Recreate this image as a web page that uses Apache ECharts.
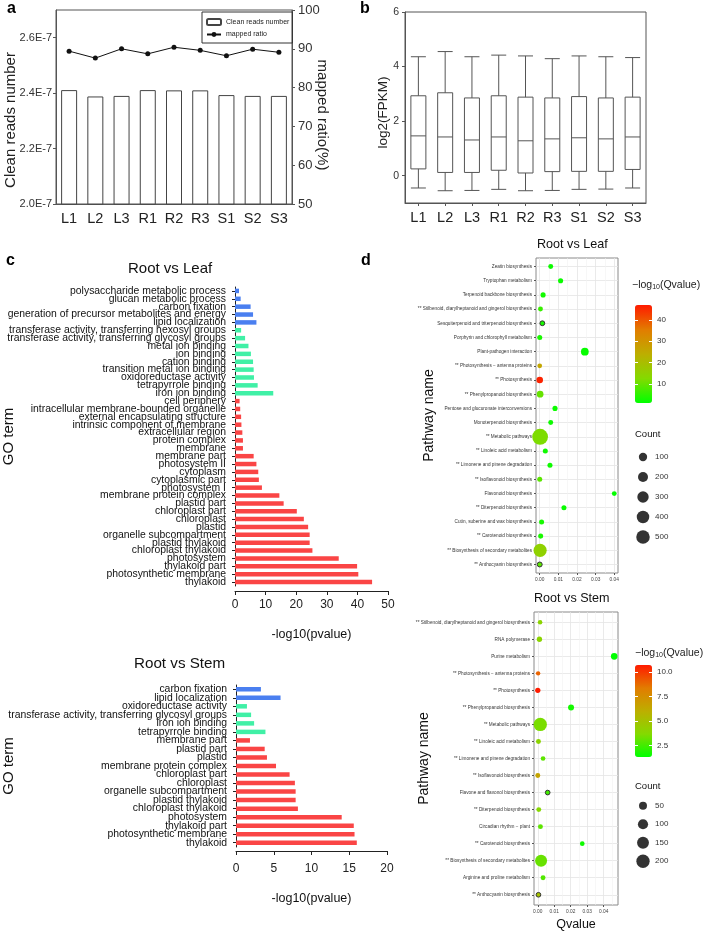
<!DOCTYPE html>
<html>
<head>
<meta charset="utf-8">
<title>Transcriptome overview</title>
<script src="https://cdn.jsdelivr.net/npm/echarts@6/dist/echarts.min.js"></script>
<style>
  html, body { margin: 0; padding: 0; background: #fff; }
  #chart { width: 709px; height: 931px; }
</style>
</head>
<body>
<div id="chart"></div>
<script>
// ---- a: clean reads (x 1E-7) and mapped ratio per sample
const samples = ['L1', 'L2', 'L3', 'R1', 'R2', 'R3', 'S1', 'S2', 'S3']
const cleanReads = [2.411, 2.388, 2.39, 2.411, 2.41, 2.41, 2.393, 2.39, 2.39]
const mappedRatio = [89.4, 87.6, 90.0, 88.7, 90.4, 89.6, 88.2, 89.9, 89.1]

// ---- b: log2(FPKM) boxes [min, Q1, median, Q3, max]
const fpkmBoxes = [
  [-0.45, 0.25, 1.46, 2.93, 4.36],
  [-0.55, 0.12, 1.42, 3.04, 4.55],
  [-0.54, 0.12, 1.31, 2.85, 4.36],
  [-0.50, 0.20, 1.42, 2.93, 4.42],
  [-0.55, 0.10, 1.28, 2.88, 4.39],
  [-0.54, 0.15, 1.35, 2.85, 4.29],
  [-0.50, 0.16, 1.39, 2.90, 4.39],
  [-0.49, 0.16, 1.35, 2.85, 4.36],
  [-0.45, 0.23, 1.42, 2.88, 4.33]
]

// ---- c: GO enrichment, top to bottom
const leafTerms = [
  'polysaccharide metabolic process', 'glucan metabolic process', 'carbon fixation',
  'generation of precursor metabolites and energy', 'lipid localization',
  'transferase activity, transferring hexosyl groups', 'transferase activity, transferring glycosyl groups',
  'metal ion binding', 'ion binding', 'cation binding', 'transition metal ion binding',
  'oxidoreductase activity', 'tetrapyrrole binding', 'iron ion binding',
  'cell periphery', 'intracellular membrane-bounded organelle', 'external encapsulating structure',
  'intrinsic component of membrane', 'extracellular region', 'protein complex', 'membrane',
  'membrane part', 'photosystem II', 'cytoplasm', 'cytoplasmic part', 'photosystem I',
  'membrane protein complex', 'plastid part', 'chloroplast part', 'chloroplast', 'plastid',
  'organelle subcompartment', 'plastid thylakoid', 'chloroplast thylakoid', 'photosystem',
  'thylakoid part', 'photosynthetic membrane', 'thylakoid'
]
const leafGroups = [
  'BP', 'BP', 'BP', 'BP', 'BP',
  'MF', 'MF', 'MF', 'MF', 'MF', 'MF', 'MF', 'MF', 'MF',
  'CC', 'CC', 'CC', 'CC', 'CC', 'CC', 'CC', 'CC', 'CC', 'CC', 'CC', 'CC',
  'CC', 'CC', 'CC', 'CC', 'CC', 'CC', 'CC', 'CC', 'CC', 'CC', 'CC', 'CC'
]
const leafPvalues = [
  1.3, 1.85, 5.1, 5.9, 7.0,
  2.0, 3.3, 4.4, 5.2, 5.9, 6.1, 6.2, 7.4, 12.5,
  1.5, 1.7, 2.0, 2.1, 2.4, 2.6, 2.6, 6.1, 7.0, 7.6, 7.8, 8.8,
  14.5, 15.9, 20.2, 22.5, 23.9, 24.4, 24.4, 25.3, 33.9, 39.9, 40.3, 44.8
]

const stemTerms = [
  'carbon fixation', 'lipid localization', 'oxidoreductase activity',
  'transferase activity, transferring glycosyl groups', 'iron ion binding', 'tetrapyrrole binding',
  'membrane part', 'plastid part', 'plastid', 'membrane protein complex', 'chloroplast part',
  'chloroplast', 'organelle subcompartment', 'plastid thylakoid', 'chloroplast thylakoid',
  'photosystem', 'thylakoid part', 'photosynthetic membrane', 'thylakoid'
]
const stemGroups = [
  'BP', 'BP', 'MF', 'MF', 'MF', 'MF',
  'CC', 'CC', 'CC', 'CC', 'CC', 'CC', 'CC', 'CC', 'CC', 'CC', 'CC', 'CC', 'CC'
]
const stemPvalues = [3.3, 5.9, 1.45, 2.0, 2.4, 3.9, 1.85, 3.8, 4.1, 5.3, 7.1, 7.8, 7.9, 7.9, 8.2, 14.0, 15.6, 15.7, 16.0]

// ---- d: KEGG enrichment, top to bottom
const leafPathways = [
  'Zeatin biosynthesis', 'Tryptophan metabolism', 'Terpenoid backbone biosynthesis',
  '** Stilbenoid, diarylheptanoid and gingerol biosynthesis', 'Sesquiterpenoid and triterpenoid biosynthesis',
  'Porphyrin and chlorophyll metabolism', 'Plant-pathogen interaction', '** Photosynthesis \u2212 antenna proteins',
  '** Photosynthesis', '** Phenylpropanoid biosynthesis', 'Pentose and glucuronate interconversions',
  'Monoterpenoid biosynthesis', '** Metabolic pathways', '** Linoleic acid metabolism',
  '** Limonene and pinene degradation', '** Isoflavonoid biosynthesis', 'Flavonoid biosynthesis',
  '** Diterpenoid biosynthesis', 'Cutin, suberine and wax biosynthesis', '** Carotenoid biosynthesis',
  '** Biosynthesis of secondary metabolites', '** Anthocyanin biosynthesis'
]
const leafQvalues = [0.0059, 0.0112, 0.0018, 0.0004, 0.0014, 0.0000, 0.0242, 0.0000, 0.0000, 0.0002, 0.0082,
  0.0059, 0.0002, 0.0030, 0.0055, 0.0000, 0.0400, 0.0130, 0.0010, 0.0005, 0.0002, 0.0000]
const leafLogQ = [2.2, 2.0, 2.7, 6, 3.0, 3.3, 1.6, 26, 46, 10, 2.1, 2.2, 12, 2.5, 2.3, 9, 1.4, 1.9, 3, 3.3, 15, 9]
const leafCounts = [4, 6, 6, 4, 3, 5, 75, 2, 35, 40, 6, 4, 780, 5, 5, 5, 3, 5, 5, 5, 470, 4]
const leafCountBreaks = [100, 200, 300, 400, 500]
const leafColorTicks = [10, 20, 30, 40]

const stemPathways = [
  '** Stilbenoid, diarylheptanoid and gingerol biosynthesis', 'RNA polymerase', 'Purine metabolism',
  '** Photosynthesis \u2212 antenna proteins', '** Photosynthesis', '** Phenylpropanoid biosynthesis',
  '** Metabolic pathways', '** Linoleic acid metabolism', '** Limonene and pinene degradation',
  '** Isoflavonoid biosynthesis', 'Flavone and flavonol biosynthesis', '** Diterpenoid biosynthesis',
  'Circadian rhythm \u2212 plant', '** Carotenoid biosynthesis', '** Biosynthesis of secondary metabolites',
  'Arginine and proline metabolism', '** Anthocyanin biosynthesis'
]
const stemQvalues = [0.0014, 0.0010, 0.0464, 0.0002, 0.0000, 0.0202, 0.0015, 0.0004, 0.0032, 0.0000, 0.0060,
  0.0006, 0.0016, 0.0270, 0.0020, 0.0032, 0.0004]
const stemLogQ = [4, 4, 1.35, 9, 10.7, 1.7, 3.5, 4, 3, 6.5, 2.5, 3.8, 3, 1.6, 3.2, 2.8, 5]
const stemCounts = [6, 12, 28, 5, 12, 19, 200, 9, 7, 9, 7, 9, 9, 7, 154, 9, 7]
const stemCountBreaks = [50, 100, 150, 200]
const stemColorTicks = [2.5, 5.0, 7.5, 10.0]

const qTicks = [0, 0.01, 0.02, 0.03, 0.04]
const qMinorTicks = [0.005, 0.015, 0.025, 0.035, 0.045]

// -------------------------------------------------------------------
const FONT = '"Liberation Sans", Arial, sans-serif'
const groupColors = { BP: '#4a7ff0', MF: '#40f0a6', CC: '#fa4545' }
const qColors = ['#00ff00', '#84da00', '#bdae00', '#e27c00', '#ff1a00']
const ringed = new Set(['Sesquiterpenoid and triterpenoid biosynthesis', 'Flavone and flavonol biosynthesis', '** Anthocyanin biosynthesis'])

const leafDotSize = (c) => 4.1 + 0.42 * Math.sqrt(c)
const stemDotSize = (c) => 2.7 + 0.75 * Math.sqrt(c)

const range = (n) => Array.from({ length: n }, (_, i) => i)

const letter = (text, left, top) => ({
  text, left, top, padding: 0,
  textStyle: { fontSize: 16, fontWeight: 'bold', color: '#000', fontFamily: FONT }
})
const heading = (text, left, top, size) => ({
  text, left, top, padding: 0,
  textStyle: { fontSize: size, fontWeight: 'normal', color: '#111', fontFamily: FONT }
})
const qLegendTitle = (left, top) => ({
  text: '\u2212log{s|10}(Qvalue)', left, top, padding: 0,
  textStyle: {
    fontSize: 10.5, fontWeight: 'normal', color: '#222', fontFamily: FONT,
    rich: { s: { fontSize: 7, verticalAlign: 'bottom', padding: [5, 0, 0, 0], fontFamily: FONT, color: '#222' } }
  }
})
// fixed-position grid (no automatic squeezing to keep labels on the canvas)
const box = (left, top, width, height, extra) => Object.assign({ left, top, width, height, outerBoundsMode: 'none' }, extra || {})

const goBars = (values, groups) => values.map((v, i) => ({ value: v, itemStyle: { color: groupColors[groups[i]] } }))

const goCategoryAxis = (gridIndex, terms, nameGap) => ({
  type: 'category', gridIndex, data: terms, inverse: true,
  axisLine: { show: true, lineStyle: { color: '#222' } },
  axisTick: { show: true, alignWithLabel: true, length: 3, lineStyle: { color: '#222' } },
  axisLabel: { interval: 0, fontSize: 10.4, color: '#111', margin: 9, fontFamily: FONT },
  splitLine: { show: false },
  name: 'GO term', nameLocation: 'middle', nameGap, nameMoveOverlap: false,
  nameTextStyle: { fontSize: 15, color: '#111', fontFamily: FONT }
})

const goValueAxis = (gridIndex, max, interval, offset, margin, nameGap) => ({
  type: 'value', gridIndex, min: 0, max, interval, offset,
  axisLine: { show: true, onZero: false, lineStyle: { color: '#222' } },
  axisTick: { show: true, length: 4, lineStyle: { color: '#222' } },
  axisLabel: { fontSize: 12, color: '#222', margin, fontFamily: FONT },
  splitLine: { show: false },
  name: '-log10(pvalue)', nameLocation: 'middle', nameGap, nameMoveOverlap: false,
  nameTextStyle: { fontSize: 12.5, color: '#111', fontFamily: FONT }
})

const qAxis = (gridIndex, min, max) => ({
  type: 'value', gridIndex, min, max, position: 'bottom',
  axisLine: { show: false, onZero: false },
  axisTick: { show: true, customValues: qTicks, length: 2, lineStyle: { color: '#555' } },
  axisLabel: { customValues: qTicks, formatter: (v) => v.toFixed(2), fontSize: 4.8, color: '#444', margin: 4, fontFamily: FONT },
  splitLine: { show: true, lineStyle: { color: '#e4e4e4', width: 0.8 } }
})
const qMinorAxis = (gridIndex, min, max) => ({
  type: 'value', gridIndex, min, max, position: 'bottom',
  axisLine: { show: false, onZero: false },
  axisTick: { show: false, customValues: qMinorTicks },
  axisLabel: { show: false, customValues: qMinorTicks },
  splitLine: { show: true, lineStyle: { color: '#f1f1f1', width: 0.6 } }
})
const pathwayAxis = (gridIndex, names, nameGap) => ({
  type: 'value', gridIndex, min: -0.6, max: names.length - 0.4, inverse: true,
  axisLine: { show: false, onZero: false },
  axisTick: { show: true, customValues: range(names.length), length: 2, lineStyle: { color: '#555' } },
  axisLabel: {
    customValues: range(names.length), formatter: (v) => names[Math.round(v)],
    fontSize: 4.7, color: '#333', margin: 4, fontFamily: FONT
  },
  splitLine: { show: true, lineStyle: { color: '#e4e4e4', width: 0.8 } },
  name: 'Pathway name', nameLocation: 'middle', nameGap, nameMoveOverlap: false,
  nameTextStyle: { fontSize: 14, color: '#111', fontFamily: FONT }
})
const colorBarAxis = (gridIndex, min, max, ticks, position, showLabel) => ({
  type: 'value', gridIndex, min, max, position, z: 10,
  axisLine: { show: false, onZero: false },
  axisTick: { show: true, inside: true, length: 3, customValues: ticks, lineStyle: { color: '#fff' } },
  axisLabel: {
    show: showLabel, customValues: ticks, fontSize: 8, color: '#333', margin: 5, fontFamily: FONT,
    formatter: (v) => (ticks.some((t) => t % 1 !== 0) ? v.toFixed(1) : String(v))
  },
  splitLine: { show: false }
})
const hiddenAxis = (gridIndex, min, max) => ({
  type: 'value', gridIndex, min, max, show: false
})
const countAxis = (gridIndex, breaks) => ({
  type: 'value', gridIndex, min: -0.5, max: breaks.length - 0.5, inverse: true, position: 'right',
  axisLine: { show: false, onZero: false },
  axisTick: { show: false },
  axisLabel: { customValues: range(breaks.length), formatter: (v) => String(breaks[Math.round(v)]), fontSize: 8, color: '#333', margin: 2, fontFamily: FONT },
  splitLine: { show: false }
})

const pathwayPoints = (names, q, logq, counts) => names.map((n, i) => {
  const item = { value: [q[i], i, logq[i], counts[i]] }
  if (ringed.has(n)) item.itemStyle = { borderColor: '#333', borderWidth: 1 }
  return item
})

const option = {
  animation: false,
  backgroundColor: '#fff',
  textStyle: { fontFamily: FONT },
  title: [
    letter('a', 7, 1),
    letter('b', 360, 1),
    letter('c', 6, 253),
    letter('d', 361, 253),
    heading('Root vs Leaf', 128, 261, 15),
    heading('Root vs Stem', 134, 656, 15.2),
    heading('Root vs Leaf', 537, 238, 12.6),
    heading('Root vs Stem', 534, 592, 12.6),
    qLegendTitle(632, 279),
    qLegendTitle(635, 647),
    heading('Count', 635, 429, 9.5),
    heading('Count', 635, 781, 9.5)
  ],
  legend: {
    left: 202, top: 12, orient: 'vertical', padding: [6, 3, 5, 4], itemGap: 5,
    itemWidth: 14, itemHeight: 6, borderColor: '#333', borderWidth: 1, selectedMode: false,
    textStyle: { fontSize: 7, color: '#222', fontFamily: FONT },
    data: ['Clean reads number', 'mapped ratio']
  },
  grid: [
    box(56, 10, 236, 194, { show: true, borderColor: '#555', borderWidth: 1 }),
    box(405, 12, 241, 191, { show: true, borderColor: '#555', borderWidth: 1 }),
    box(235, 287, 153, 299),
    box(236, 685, 151, 162),
    box(536, 258, 82, 315, { show: true, borderColor: '#8a8a8a', borderWidth: 1 }),
    box(534, 612, 84, 293, { show: true, borderColor: '#8a8a8a', borderWidth: 1 }),
    box(635, 305, 17, 98),
    box(635, 665, 17, 92),
    box(633, 447, 20, 100),
    box(633, 796.5, 20, 74)
  ],
  xAxis: [
    {
      type: 'category', gridIndex: 0, data: samples,
      axisLine: { onZero: false, lineStyle: { color: '#555' } }, axisTick: { show: false },
      axisLabel: { fontSize: 14.5, color: '#222', margin: 7, fontFamily: FONT }
    },
    {
      type: 'category', gridIndex: 1, data: samples,
      axisLine: { onZero: false, lineStyle: { color: '#555' } },
      axisTick: { show: true, alignWithLabel: true, length: 3, lineStyle: { color: '#555' } },
      axisLabel: { fontSize: 14.5, color: '#222', margin: 7, fontFamily: FONT }
    },
    goValueAxis(2, 50, 10, 5, 8, 37),
    goValueAxis(3, 20, 5, 4, 12, 41),
    qAxis(4, -0.002, 0.042),
    qMinorAxis(4, -0.002, 0.042),
    Object.assign(qAxis(5, -0.0023, 0.0487), {
      name: 'Qvalue', nameLocation: 'middle', nameGap: 13, nameMoveOverlap: false,
      nameTextStyle: { fontSize: 12.5, color: '#111', fontFamily: FONT }
    }),
    qMinorAxis(5, -0.0023, 0.0487),
    hiddenAxis(6, 0, 1),
    hiddenAxis(7, 0, 1),
    hiddenAxis(8, 0, 1),
    hiddenAxis(9, 0, 1)
  ],
  yAxis: [
    {
      type: 'value', gridIndex: 0, min: 2.0, max: 2.7,
      axisLine: { show: true, onZero: false, lineStyle: { color: '#555' } },
      axisTick: { show: true, length: 3, customValues: [2.0, 2.2, 2.4, 2.6], lineStyle: { color: '#555' } },
      axisLabel: { customValues: [2.0, 2.2, 2.4, 2.6], formatter: (v) => v.toFixed(1) + 'E-7', fontSize: 11, color: '#333', margin: 4, fontFamily: FONT },
      splitLine: { show: false },
      name: 'Clean reads number', nameLocation: 'middle', nameGap: 38, nameMoveOverlap: false,
      nameTextStyle: { fontSize: 15, color: '#222', fontFamily: FONT, padding: [0, 26, 0, 0] }
    },
    {
      type: 'value', gridIndex: 0, min: 50, max: 100, interval: 10, position: 'right',
      axisLine: { show: true, onZero: false, lineStyle: { color: '#555' } },
      axisTick: { show: true, length: 3, lineStyle: { color: '#555' } },
      axisLabel: { fontSize: 13, color: '#333', margin: 6, fontFamily: FONT },
      splitLine: { show: false },
      name: 'mapped ratio(%)', nameLocation: 'middle', nameGap: 23, nameRotate: -90, nameMoveOverlap: false,
      nameTextStyle: { fontSize: 15, color: '#222', fontFamily: FONT, padding: [0, 0, 0, 16] }
    },
    {
      type: 'value', gridIndex: 1, min: -1, max: 6,
      axisLine: { show: true, onZero: false, lineStyle: { color: '#555' } },
      axisTick: { show: true, length: 3, customValues: [0, 2, 4, 6], lineStyle: { color: '#555' } },
      axisLabel: { customValues: [0, 2, 4, 6], fontSize: 10.5, color: '#333', margin: 6, fontFamily: FONT },
      splitLine: { show: false },
      name: 'log2(FPKM)', nameLocation: 'middle', nameGap: 15, nameMoveOverlap: false,
      nameTextStyle: { fontSize: 13.5, color: '#222', fontFamily: FONT, padding: [0, 10, 0, 0] }
    },
    goCategoryAxis(2, leafTerms, 219),
    goCategoryAxis(3, stemTerms, 220),
    pathwayAxis(4, leafPathways, 100),
    pathwayAxis(5, stemPathways, 103),
    colorBarAxis(6, 1.1, 47, leafColorTicks, 'right', true),
    colorBarAxis(6, 1.1, 47, leafColorTicks, 'left', false),
    colorBarAxis(7, 1.35, 10.74, stemColorTicks, 'right', true),
    colorBarAxis(7, 1.35, 10.74, stemColorTicks, 'left', false),
    countAxis(8, leafCountBreaks),
    countAxis(9, stemCountBreaks)
  ],
  visualMap: [
    {
      type: 'continuous', seriesIndex: 5, dimension: 2, min: 1.1, max: 47,
      left: 635, top: 305, itemWidth: 17, itemHeight: 98, padding: 0,
      calculable: false, realtime: false, showLabel: false, text: null, hoverLink: false,
      inRange: { color: qColors }
    },
    {
      type: 'continuous', seriesIndex: 6, dimension: 2, min: 1.35, max: 10.74,
      left: 635, top: 665, itemWidth: 17, itemHeight: 92, padding: 0,
      calculable: false, realtime: false, showLabel: false, text: null, hoverLink: false,
      inRange: { color: qColors }
    }
  ],
  series: [
    {
      name: 'Clean reads number', type: 'bar', xAxisIndex: 0, yAxisIndex: 0,
      data: cleanReads, barWidth: 16,
      itemStyle: { color: '#fff', borderColor: '#444', borderWidth: 1 }
    },
    {
      name: 'mapped ratio', type: 'line', xAxisIndex: 0, yAxisIndex: 1,
      data: mappedRatio, symbol: 'circle', symbolSize: 5,
      itemStyle: { color: '#111' }, lineStyle: { color: '#111', width: 1 }
    },
    {
      type: 'boxplot', xAxisIndex: 1, yAxisIndex: 2, data: fpkmBoxes, boxWidth: [15, 15],
      itemStyle: { color: '#fff', borderColor: '#555', borderWidth: 1 }
    },
    { type: 'bar', xAxisIndex: 2, yAxisIndex: 3, data: goBars(leafPvalues, leafGroups), barWidth: 4.5 },
    { type: 'bar', xAxisIndex: 3, yAxisIndex: 4, data: goBars(stemPvalues, stemGroups), barWidth: 4.5 },
    {
      type: 'scatter', xAxisIndex: 4, yAxisIndex: 5,
      data: pathwayPoints(leafPathways, leafQvalues, leafLogQ, leafCounts),
      symbolSize: (d) => leafDotSize(d[3]), itemStyle: { opacity: 1 }
    },
    {
      type: 'scatter', xAxisIndex: 6, yAxisIndex: 6,
      data: pathwayPoints(stemPathways, stemQvalues, stemLogQ, stemCounts),
      symbolSize: (d) => stemDotSize(d[3]), itemStyle: { opacity: 1 }
    },
    {
      type: 'scatter', xAxisIndex: 10, yAxisIndex: 11,
      data: leafCountBreaks.map((c, i) => [0.5, i, c]),
      symbolSize: (d) => leafDotSize(d[2]), itemStyle: { color: '#000' }
    },
    {
      type: 'scatter', xAxisIndex: 11, yAxisIndex: 12,
      data: stemCountBreaks.map((c, i) => [0.5, i, c]),
      symbolSize: (d) => stemDotSize(d[2]), itemStyle: { color: '#000' }
    }
  ]
}

const chart = echarts.init(document.getElementById('chart'), null, { renderer: 'canvas' })
chart.setOption(option)
window.addEventListener('resize', () => chart.resize())
</script>
</body>
</html>
